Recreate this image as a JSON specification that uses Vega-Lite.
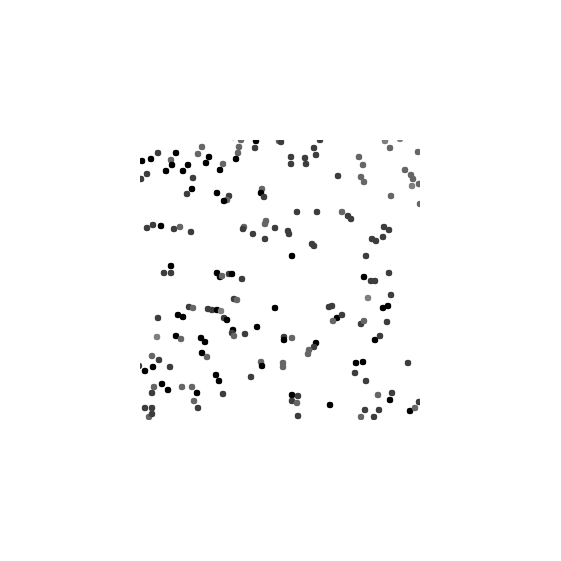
{
"$schema":"https://vega.github.io/schema/vega-lite/v6.json",
"width":280,"height":280,
"autosize":"none",
"padding":{"left":140,"top":140,"right":141,"bottom":141},
"background":"white",
"config":{"view":{"stroke":null}},
"data":{"values":[
{"x":101,"y":280,"s":"g"},{"x":116,"y":279,"s":"k"},{"x":139,"y":279,"s":"g"},{"x":93,"y":283,"s":"l"},{"x":99,"y":273,"s":"g"},{"x":115,"y":272,"s":"d"},{"x":98,"y":267,"s":"g"},{"x":62,"y":273,"s":"g"},{"x":58,"y":266,"s":"g"},{"x":69,"y":263,"s":"k"},
{"x":66,"y":257,"s":"k"},{"x":83,"y":256,"s":"g"},{"x":80,"y":250,"s":"k"},{"x":96,"y":261,"s":"k"},{"x":18,"y":267,"s":"d"},{"x":11,"y":261,"s":"k"},{"x":2,"y":259,"s":"k"},{"x":36,"y":267,"s":"k"},{"x":31,"y":260,"s":"g"},{"x":32,"y":255,"s":"k"},
{"x":26,"y":249,"s":"k"},{"x":48,"y":255,"s":"k"},{"x":43,"y":249,"s":"k"},{"x":7,"y":246,"s":"d"},{"x":1,"y":241,"s":"d"},{"x":53,"y":242,"s":"d"},{"x":52,"y":231,"s":"k"},{"x":47,"y":226,"s":"d"},{"x":77,"y":227,"s":"k"},{"x":89,"y":224,"s":"d"},
{"x":87,"y":220,"s":"g"},{"x":84,"y":219,"s":"k"},{"x":122,"y":231,"s":"g"},{"x":121,"y":227,"s":"k"},{"x":124,"y":223,"s":"d"},{"x":7,"y":192,"s":"d"},{"x":13,"y":195,"s":"d"},{"x":21,"y":194,"s":"k"},{"x":34,"y":191,"s":"d"},{"x":40,"y":193,"s":"g"},
{"x":51,"y":188,"s":"d"},{"x":104,"y":193,"s":"g"},{"x":103,"y":191,"s":"d"},{"x":126,"y":199,"s":"g"},{"x":125,"y":196,"s":"g"},{"x":135,"y":192,"s":"d"},{"x":113,"y":186,"s":"d"},{"x":125,"y":181,"s":"d"},{"x":31,"y":154,"s":"k"},{"x":24,"y":147,"s":"d"},
{"x":31,"y":147,"s":"d"},{"x":77,"y":147,"s":"k"},{"x":80,"y":143,"s":"k"},{"x":82,"y":144,"s":"g"},{"x":89,"y":146,"s":"d"},{"x":92,"y":146,"s":"k"},{"x":102,"y":141,"s":"d"},{"x":141,"y":278,"s":"d"},{"x":180,"y":280,"s":"d"},{"x":174,"y":272,"s":"d"},
{"x":176,"y":265,"s":"d"},{"x":151,"y":263,"s":"d"},{"x":151,"y":256,"s":"d"},{"x":165,"y":262,"s":"d"},{"x":166,"y":256,"s":"d"},{"x":245,"y":279,"s":"l"},{"x":250,"y":272,"s":"g"},{"x":260,"y":281,"s":"l"},{"x":278,"y":268,"s":"g"},{"x":219,"y":263,"s":"g"},
{"x":223,"y":255,"s":"g"},{"x":198,"y":244,"s":"d"},{"x":221,"y":243,"s":"g"},{"x":224,"y":238,"s":"g"},{"x":265,"y":250,"s":"g"},{"x":271,"y":245,"s":"g"},{"x":273,"y":241,"s":"g"},{"x":272,"y":234,"s":"l"},{"x":279,"y":236,"s":"g"},{"x":251,"y":224,"s":"g"},
{"x":280,"y":216,"s":"g"},{"x":157,"y":208,"s":"d"},{"x":177,"y":208,"s":"d"},{"x":202,"y":208,"s":"g"},{"x":208,"y":204,"s":"d"},{"x":211,"y":201,"s":"d"},{"x":148,"y":189,"s":"d"},{"x":149,"y":186,"s":"d"},{"x":172,"y":176,"s":"d"},{"x":174,"y":174,"s":"d"},
{"x":152,"y":164,"s":"k"},{"x":226,"y":164,"s":"d"},{"x":244,"y":193,"s":"d"},{"x":249,"y":190,"s":"d"},{"x":243,"y":183,"s":"d"},{"x":232,"y":181,"s":"d"},{"x":236,"y":179,"s":"d"},{"x":224,"y":143,"s":"k"},{"x":231,"y":139,"s":"d"},{"x":235,"y":139,"s":"d"},
{"x":249,"y":147,"s":"d"},{"x":94,"y":121,"s":"d"},{"x":97,"y":120,"s":"g"},{"x":49,"y":113,"s":"d"},{"x":53,"y":112,"s":"g"},{"x":68,"y":111,"s":"d"},{"x":72,"y":110,"s":"d"},{"x":77,"y":110,"s":"k"},{"x":81,"y":109,"s":"l"},{"x":135,"y":112,"s":"k"},
{"x":18,"y":102,"s":"d"},{"x":38,"y":105,"s":"k"},{"x":43,"y":103,"s":"k"},{"x":84,"y":102,"s":"d"},{"x":87,"y":100,"s":"k"},{"x":93,"y":90,"s":"k"},{"x":92,"y":87,"s":"d"},{"x":94,"y":84,"s":"g"},{"x":105,"y":86,"s":"d"},{"x":117,"y":93,"s":"k"},
{"x":17,"y":83,"s":"l"},{"x":36,"y":84,"s":"k"},{"x":41,"y":81,"s":"g"},{"x":61,"y":82,"s":"k"},{"x":65,"y":78,"s":"k"},{"x":62,"y":67,"s":"k"},{"x":67,"y":63,"s":"g"},{"x":12,"y":64,"s":"g"},{"x":19,"y":60,"s":"d"},{"x":-1,"y":54,"s":"d"},
{"x":13,"y":53,"s":"k"},{"x":5,"y":49,"s":"k"},{"x":30,"y":53,"s":"d"},{"x":76,"y":45,"s":"k"},{"x":79,"y":39,"s":"k"},{"x":111,"y":43,"s":"d"},{"x":121,"y":58,"s":"g"},{"x":122,"y":54,"s":"k"},{"x":22,"y":36,"s":"k"},{"x":28,"y":30,"s":"k"},
{"x":14,"y":33,"s":"g"},{"x":12,"y":27,"s":"d"},{"x":42,"y":33,"s":"g"},{"x":52,"y":33,"s":"g"},{"x":57,"y":27,"s":"k"},{"x":83,"y":26,"s":"d"},{"x":54,"y":19,"s":"g"},{"x":58,"y":12,"s":"d"},{"x":5,"y":12,"s":"d"},{"x":12,"y":12,"s":"d"},
{"x":9,"y":3,"s":"g"},{"x":12,"y":6,"s":"d"},{"x":251,"y":125,"s":"d"},{"x":228,"y":122,"s":"l"},{"x":189,"y":113,"s":"d"},{"x":192,"y":114,"s":"d"},{"x":197,"y":102,"s":"k"},{"x":202,"y":105,"s":"d"},{"x":193,"y":99,"s":"g"},{"x":243,"y":112,"s":"k"},
{"x":248,"y":114,"s":"k"},{"x":221,"y":96,"s":"d"},{"x":224,"y":99,"s":"g"},{"x":247,"y":98,"s":"d"},{"x":235,"y":80,"s":"k"},{"x":240,"y":84,"s":"d"},{"x":144,"y":83,"s":"d"},{"x":144,"y":80,"s":"k"},{"x":152,"y":82,"s":"g"},{"x":176,"y":77,"s":"k"},
{"x":174,"y":73,"s":"d"},{"x":169,"y":70,"s":"g"},{"x":168,"y":66,"s":"g"},{"x":143,"y":57,"s":"g"},{"x":143,"y":53,"s":"g"},{"x":216,"y":57,"s":"k"},{"x":223,"y":58,"s":"k"},{"x":215,"y":47,"s":"d"},{"x":226,"y":39,"s":"d"},{"x":268,"y":57,"s":"d"},
{"x":152,"y":25,"s":"k"},{"x":158,"y":24,"s":"d"},{"x":152,"y":19,"s":"d"},{"x":157,"y":17,"s":"g"},{"x":190,"y":15,"s":"k"},{"x":238,"y":25,"s":"g"},{"x":252,"y":27,"s":"d"},{"x":250,"y":20,"s":"k"},{"x":225,"y":10,"s":"d"},{"x":221,"y":3,"s":"g"},
{"x":234,"y":3,"s":"d"},{"x":239,"y":10,"s":"d"},{"x":270,"y":9,"s":"k"},{"x":275,"y":12,"s":"g"},{"x":279,"y":18,"s":"d"},{"x":158,"y":4,"s":"d"}
]},
"mark":{"type":"circle","size":42,"opacity":1,"clip":true},
"encoding":{
"x":{"field":"x","type":"quantitative","scale":{"domain":[0,280],"nice":false,"zero":false},"axis":null},
"y":{"field":"y","type":"quantitative","scale":{"domain":[0,280],"nice":false,"zero":false},"axis":null},
"color":{"field":"s","type":"nominal","scale":{"domain":["k","d","g","l"],"range":["#000000","#3d3d3d","#666666","#7f7f7f"]},"legend":null}
}
}
